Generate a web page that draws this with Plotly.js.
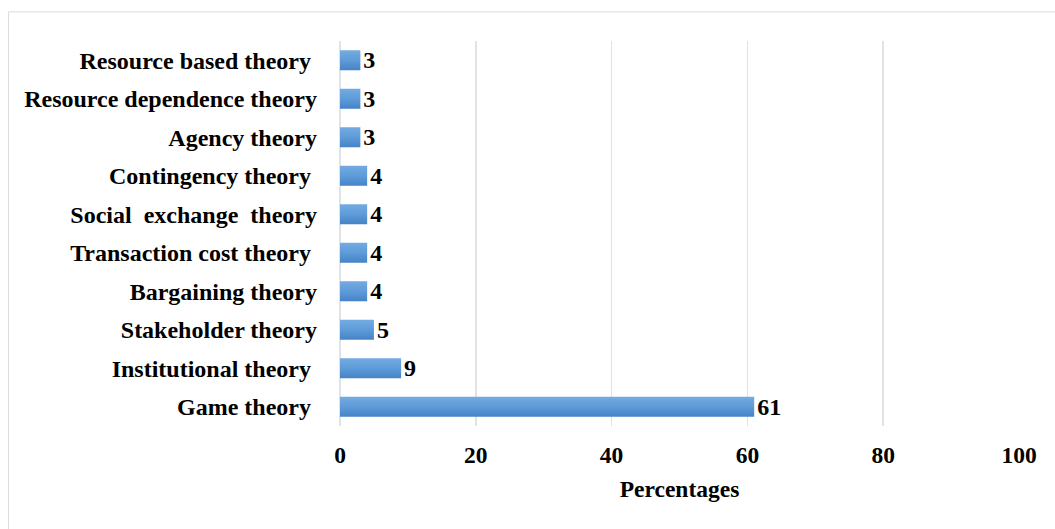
<!DOCTYPE html>
<html>
<head>
<meta charset="utf-8">
<script src="https://cdn.plot.ly/plotly-3.0.1.min.js"></script>
<style>
  html, body { margin: 0; padding: 0; background: #ffffff; }
  #chart { width: 1055px; height: 529px; }
</style>
</head>
<body>
<div id="chart"></div>
<script>
// Theories, listed bottom to top as they appear on the category axis
const theories = [
  "Game theory\u00a0",
  "Institutional theory\u00a0",
  "Stakeholder theory",
  "Bargaining theory",
  "Transaction cost theory\u00a0",
  "Social\u00a0 exchange\u00a0 theory",
  "Contingency theory\u00a0",
  "Agency theory",
  "Resource dependence theory",
  "Resource based theory\u00a0"
];
// Share of studies using each theory (%)
const percentages = [61, 9, 5, 4, 4, 4, 4, 3, 3, 3];
const valueLabels = percentages.map(String);

const xTickValues = [0, 20, 40, 60, 80, 100];
const xTickLabels = ["0", "20", "40", "60", "80", "100"];

const serif = "Liberation Serif, Times New Roman, serif";

const trace = {
  type: "bar",
  orientation: "h",
  y: theories,
  x: percentages,
  text: valueLabels,
  textposition: "outside",
  constraintext: "none",
  cliponaxis: false,
  textfont: { family: serif, size: 24, color: "#000000", weight: "bold" },
  marker: { color: "#5b97d6", line: { width: 0 } },
  hoverinfo: "none"
};

const layout = {
  width: 1055,
  height: 529,
  margin: { l: 340, r: 36, t: 41, b: 103 },
  paper_bgcolor: "#ffffff",
  plot_bgcolor: "#ffffff",
  showlegend: false,
  bargap: 0.48,
  font: { family: serif, size: 23, color: "#000000" },
  xaxis: {
    range: [0, 100],
    tickvals: xTickValues,
    ticktext: xTickLabels,
    showgrid: true,
    gridcolor: "#dfe3e8",
    gridwidth: 1.6,
    zeroline: true,
    zerolinecolor: "#dfe3e8",
    zerolinewidth: 1.6,
    showline: false,
    ticks: "",
    ticklabelstandoff: 12,
    tickfont: { family: serif, size: 23.5, color: "#000000", weight: "bold" },
    title: {
      text: "Percentages",
      standoff: 14,
      font: { family: serif, size: 23.5, color: "#000000", weight: "bold" }
    },
    fixedrange: true
  },
  yaxis: {
    type: "category",
    categoryorder: "array",
    categoryarray: theories,
    range: [-0.5, 9.5],
    showgrid: false,
    showline: false,
    ticks: "",
    ticklabelstandoff: 22,
    tickfont: { family: serif, size: 24, color: "#000000", weight: "bold" },
    fixedrange: true
  },
  shapes: [{
    type: "rect",
    xref: "paper", yref: "paper",
    x0: -0.4882, x1: 1.08,
    y0: -0.35, y1: 1.0757,
    line: { color: "#d9dde2", width: 1 },
    fillcolor: "rgba(0,0,0,0)",
    layer: "below"
  }]
};

Plotly.newPlot("chart", [trace], layout, { displayModeBar: false, staticPlot: true }).then(function (gd) {
  // Give the bars a soft top-to-bottom blue shading
  const svg = gd.querySelector("svg.main-svg");
  const ns = "http://www.w3.org/2000/svg";
  let defs = svg.querySelector("defs");
  if (!defs) { defs = document.createElementNS(ns, "defs"); svg.insertBefore(defs, svg.firstChild); }
  const grad = document.createElementNS(ns, "linearGradient");
  grad.setAttribute("id", "barShade");
  grad.setAttribute("x1", "0"); grad.setAttribute("y1", "0");
  grad.setAttribute("x2", "0"); grad.setAttribute("y2", "1");
  [["0", "#74abe2"], ["0.5", "#5e9bd9"], ["1", "#4583c6"]].forEach(function (s) {
    const stop = document.createElementNS(ns, "stop");
    stop.setAttribute("offset", s[0]);
    stop.setAttribute("stop-color", s[1]);
    grad.appendChild(stop);
  });
  defs.appendChild(grad);
  gd.querySelectorAll(".bars .point path").forEach(function (p) {
    p.style.fill = "url(#barShade)";
  });
});
</script>
</body>
</html>
